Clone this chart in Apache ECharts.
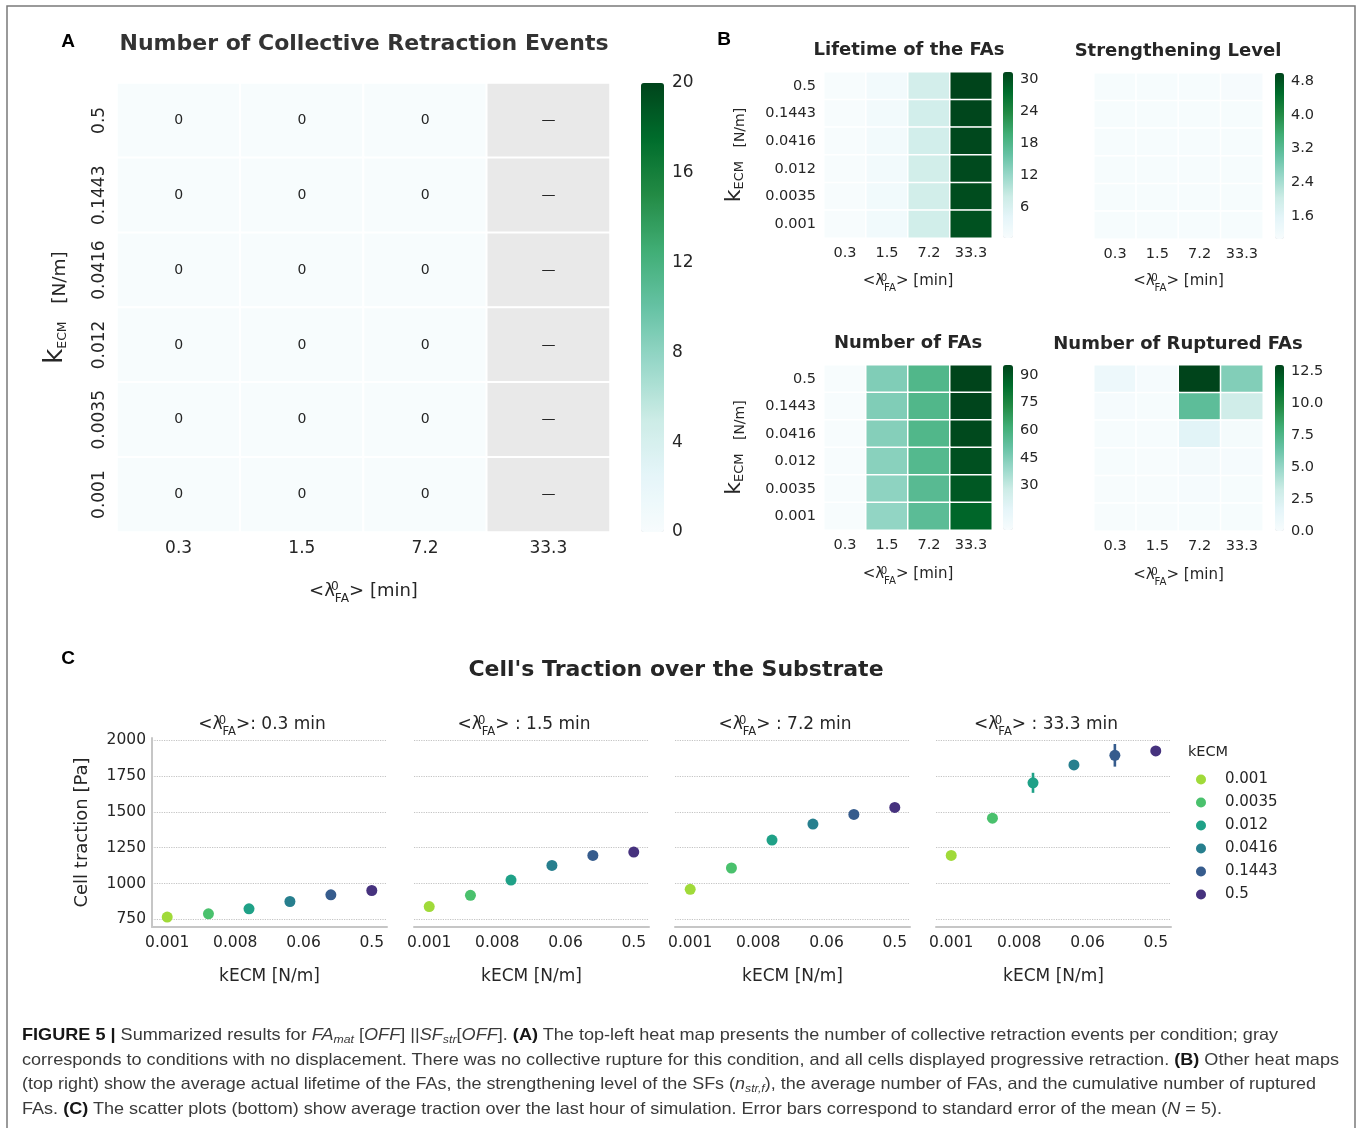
<!DOCTYPE html>
<html>
<head>
<meta charset="utf-8">
<script src="https://cdn.jsdelivr.net/npm/echarts@6/dist/echarts.min.js"></script>
<style>
  html, body { margin: 0; padding: 0; background: #fff; }
  #chart { position: absolute; left: 0; top: 0; width: 1360px; height: 1128px; }
  #caption {
    position: absolute; left: 22px; top: 1022px;
    font-family: "Liberation Sans", Arial, sans-serif;
    font-size: 16.5px; line-height: 24.7px; color: #3a3a3a;
  }
  #caption .ln { display: block; width: max-content; white-space: nowrap; transform-origin: 0 50%; }
  #caption b { color: #161616; }
  #caption sub { font-size: 68%; line-height: 0; vertical-align: -0.28em; }
</style>
</head>
<body>
<div id="chart"></div>
<div id="caption">
  <span class="ln" data-w="1256"><b>FIGURE 5 |</b> Summarized results for <i>FA<sub>mat</sub></i> [<i>OFF</i>] ||<i>SF<sub>str</sub></i>[<i>OFF</i>]. <b>(A)</b> The top-left heat map presents the number of collective retraction events per condition; gray</span>
  <span class="ln" data-w="1317">corresponds to conditions with no displacement. There was no collective rupture for this condition, and all cells displayed progressive retraction. <b>(B)</b> Other heat maps</span>
  <span class="ln" data-w="1294">(top right) show the average actual lifetime of the FAs, the strengthening level of the SFs (<i>n<sub>str,f</sub></i>), the average number of FAs, and the cumulative number of ruptured</span>
  <span class="ln" data-w="1200">FAs. <b>(C)</b> The scatter plots (bottom) show average traction over the last hour of simulation. Error bars correspond to standard error of the mean (<i>N</i> = 5).</span>
</div>
<script>
// ---------- data ----------
const lambdaCols = ['0.3', '1.5', '7.2', '33.3'];
const kRows = ['0.5', '0.1443', '0.0416', '0.012', '0.0035', '0.001'];

// A: collective retraction events (null = no displacement)
const retractionEvents = [
  [0, 0, 0, null],
  [0, 0, 0, null],
  [0, 0, 0, null],
  [0, 0, 0, null],
  [0, 0, 0, null],
  [0, 0, 0, null]
];
// B: lifetime of the FAs [min]
const faLifetime = [
  [0.3, 1.4, 7.0, 31.4],
  [0.3, 1.4, 7.1, 31.2],
  [0.3, 1.4, 7.1, 31.0],
  [0.3, 1.4, 7.2, 30.8],
  [0.3, 1.5, 7.2, 30.6],
  [0.3, 1.5, 7.3, 30.2]
];
// B: strengthening level
const strengthLevel = [
  [1.08, 1.07, 1.08, 1.09],
  [1.07, 1.08, 1.07, 1.08],
  [1.08, 1.07, 1.08, 1.07],
  [1.07, 1.07, 1.08, 1.08],
  [1.08, 1.08, 1.07, 1.07],
  [1.07, 1.08, 1.07, 1.08]
];
// B: number of FAs
const faCount = [
  [6.0, 45, 57, 95.4],
  [6.0, 45, 57, 95.0],
  [6.0, 44, 57, 94.0],
  [6.0, 43, 56, 92.0],
  [6.0, 42, 55, 90.0],
  [6.0, 41, 54, 86.0]
];
// B: number of ruptured FAs
const rupturedFAs = [
  [0.9, 0.2, 13.0, 5.6],
  [0.2, 0.1, 6.9, 3.0],
  [0.1, 0.1, 1.8, 0.3],
  [0.1, 0.0, 0.4, 0.2],
  [0.0, 0.0, 0.2, 0.1],
  [0.0, 0.0, 0.1, 0.1]
];

// colour-bar extents and ticks
const eventsRange = [0, 20],      eventsTicks = [0, 4, 8, 12, 16, 20];
const lifetimeRange = [0.3, 31.4], lifetimeTicks = [6, 12, 18, 24, 30];
const strengthRange = [1.05, 5.0], strengthTicks = [1.6, 2.4, 3.2, 4.0, 4.8];
const countRange = [6.0, 95.4],    countTicks = [30, 45, 60, 75, 90];
const rupturedRange = [0, 13.0],   rupturedTicks = [0, 2.5, 5, 7.5, 10, 12.5];

// C: cell traction [Pa] per kECM, one list per <lambda_FA>
const kValues = [0.001, 0.0035, 0.012, 0.0416, 0.1443, 0.5];
const kLabels = ['0.001', '0.0035', '0.012', '0.0416', '0.1443', '0.5'];
const lambdaPanels = ['0.3', '1.5', '7.2', '33.3'];
const traction03 = [765, 788, 823, 874, 921, 951];
const traction15 = [839, 917, 1024, 1126, 1196, 1219];
const traction72 = [959, 1108, 1303, 1415, 1482, 1531];
const traction333 = [1196, 1456, 1703, 1828, 1895, 1926];
const sem03 = [6, 6, 8, 8, 9, 10];
const sem15 = [8, 9, 10, 11, 10, 11];
const sem72 = [9, 10, 12, 12, 11, 12];
const sem333 = [12, 12, 70, 16, 79, 22];
const tractionTicks = [750, 1000, 1250, 1500, 1750, 2000];
const kTickValues = [0.001, 0.0079, 0.063, 0.5];
const kTickLabels = ['0.001', '0.008', '0.06', '0.5'];

// ---------- styling ----------
const FONT = 'DejaVu Sans';
const INK = '#262626';
const BUGN = ['#f7fcfd', '#e5f5f9', '#ccece6', '#99d8c9', '#66c2a4', '#41ae76', '#238b45', '#006d2c', '#00441b'];
const VIRIDIS6 = ['#a0da39', '#4ac16d', '#1fa187', '#277f8e', '#365c8d', '#46327e'];

const grid = [], xAxis = [], yAxis = [], series = [], visualMap = [], graphic = [];

// <λ⁰_FA> : superscript stacked over subscript
function lambdaRich(size, colorKey) {
  const s = +(size * 0.68).toFixed(1);
  const z = { fontSize: s, fontFamily: FONT, width: 0, verticalAlign: 'top', lineHeight: s, padding: [size * 0.2, 0, 0, 0] };
  const sub = { fontSize: s, fontFamily: FONT, verticalAlign: 'bottom', lineHeight: s };
  z[colorKey] = INK; sub[colorKey] = INK;
  return { z: z, s: sub };
}
const LAMBDA = '<λ{z|0}{s|FA}>';

function kEcmName(big, sub, unit, lh) {
  return {
    text: 'k{e|ECM}{u|   [N/m]}',
    style: {
      fontFamily: FONT, fontSize: big, color: INK, lineHeight: lh,
      rich: {
        e: { fontFamily: FONT, fontSize: sub, color: INK, verticalAlign: 'bottom', lineHeight: sub, padding: [0, 0, 2, 0] },
        u: { fontFamily: FONT, fontSize: unit, color: INK, verticalAlign: 'bottom', lineHeight: unit, padding: [0, 0, 1, 0] }
      }
    }
  };
}

function heatmapPanel(cfg) {
  const gi = grid.length;
  grid.push({ left: cfg.box[0], top: cfg.box[1], width: cfg.box[2], height: cfg.box[3] });
  xAxis.push({
    gridIndex: gi, type: 'category', data: lambdaCols,
    axisLine: { show: false }, axisTick: { show: false }, splitLine: { show: false },
    axisLabel: { interval: 0, fontFamily: FONT, fontSize: cfg.tick, color: INK, margin: cfg.xMargin },
    name: LAMBDA + ' [min]', nameLocation: 'middle', nameGap: cfg.xNameGap, nameMoveOverlap: false,
    nameTextStyle: { fontFamily: FONT, fontSize: cfg.xName, color: INK, lineHeight: Math.round(cfg.xName * 1.55), rich: lambdaRich(cfg.xName, 'color') }
  });
  const yName = cfg.yName ? kEcmName.apply(null, cfg.yName) : null;
  yAxis.push({
    gridIndex: gi, type: 'category', data: kRows, inverse: true,
    axisLine: { show: false }, axisTick: { show: false }, splitLine: { show: false },
    axisLabel: { show: !!cfg.yName, interval: 0, hideOverlap: false, rotate: cfg.yRotate || 0, fontFamily: FONT, fontSize: cfg.tick, color: INK, margin: cfg.yMargin },
    name: yName ? yName.text : '', nameLocation: 'middle', nameGap: cfg.yNameGap || 0, nameMoveOverlap: false,
    nameTextStyle: yName ? yName.style : {}
  });
  const cells = [], blanks = [];
  cfg.values.forEach((row, r) => row.forEach((v, c) => {
    if (v == null) blanks.push([c, r, 0]); else cells.push([c, r, v]);
  }));
  const si = series.length;
  series.push({
    type: 'heatmap', xAxisIndex: gi, yAxisIndex: gi, data: cells, silent: true,
    itemStyle: { borderColor: '#fff', borderWidth: cfg.gap },
    label: cfg.annotate ? { show: true, formatter: p => String(p.value[2]), fontFamily: FONT, fontSize: 14, color: INK } : { show: false },
    emphasis: { disabled: true }
  });
  if (blanks.length) {
    series.push({
      type: 'heatmap', xAxisIndex: gi, yAxisIndex: gi, data: blanks, silent: true,
      itemStyle: { color: '#e9e9e9', borderColor: '#fff', borderWidth: cfg.gap },
      label: { show: true, formatter: '—', fontFamily: FONT, fontSize: 14, color: INK },
      emphasis: { disabled: true }
    });
  }
  visualMap.push({
    type: 'continuous', seriesIndex: si, min: cfg.range[0], max: cfg.range[1],
    inRange: { color: BUGN }, calculable: false, orient: 'vertical', hoverLink: false,
    left: cfg.bar[0], top: cfg.bar[1], itemWidth: cfg.bar[2], itemHeight: cfg.bar[3], padding: 0, text: null
  });
  // colour-bar tick labels
  const ci = grid.length;
  grid.push({ left: cfg.bar[0], top: cfg.bar[1], width: cfg.bar[2], height: cfg.bar[3] });
  xAxis.push({ gridIndex: ci, type: 'value', show: false });
  yAxis.push({
    gridIndex: ci, type: 'value', position: 'right', min: cfg.range[0], max: cfg.range[1],
    axisLine: { show: false }, splitLine: { show: false },
    axisTick: { show: false, customValues: cfg.ticks },
    axisLabel: { customValues: cfg.ticks, formatter: cfg.fmt, fontFamily: FONT, fontSize: cfg.cbFont, color: INK, margin: cfg.cbMargin }
  });
}

const int = v => String(Math.round(v));
const one = v => v.toFixed(1);

// A
heatmapPanel({
  box: [117, 83, 493, 449], bar: [641, 83, 23, 449], values: retractionEvents,
  range: eventsRange, ticks: eventsTicks, fmt: int, cbFont: 17, cbMargin: 8,
  tick: 17, xMargin: 8, yMargin: 8.5, yRotate: 90, gap: 2, annotate: true,
  xName: 18, xNameGap: 45, yName: [26, 12.5, 18.5, 32], yNameGap: 46
});
// B
const B_TICK = 14.5;
heatmapPanel({
  box: [824, 72, 168, 166], bar: [1003, 72, 10, 166], values: faLifetime,
  range: lifetimeRange, ticks: lifetimeTicks, fmt: int, cbFont: B_TICK, cbMargin: 7,
  tick: B_TICK, xMargin: 8, yMargin: 8, gap: 1.5, xName: 15, xNameGap: 32, yName: [22, 13, 14, 28], yNameGap: 76
});
heatmapPanel({
  box: [1094, 73, 169, 166], bar: [1275, 73, 9, 166], values: strengthLevel,
  range: strengthRange, ticks: strengthTicks, fmt: one, cbFont: B_TICK, cbMargin: 7,
  tick: B_TICK, xMargin: 8, gap: 1.5, xName: 15, xNameGap: 31
});
heatmapPanel({
  box: [824, 365, 168, 165], bar: [1003, 365, 10, 165], values: faCount,
  range: countRange, ticks: countTicks, fmt: int, cbFont: B_TICK, cbMargin: 7,
  tick: B_TICK, xMargin: 8, yMargin: 8, gap: 1.5, xName: 15, xNameGap: 33, yName: [22, 13, 14, 28], yNameGap: 76
});
heatmapPanel({
  box: [1094, 365, 169, 166], bar: [1275, 365, 9, 166], values: rupturedFAs,
  range: rupturedRange, ticks: rupturedTicks, fmt: one, cbFont: B_TICK, cbMargin: 7,
  tick: B_TICK, xMargin: 8, gap: 1.5, xName: 15, xNameGap: 33
});

// C
const tractionSets = [traction03, traction15, traction72, traction333];
const semSets = [sem03, sem15, sem72, sem333];
const C_LEFTS = [152, 414, 675, 936];
const kLabelOf = v => {
  let best = 0;
  kTickValues.forEach((t, i) => {
    if (Math.abs(Math.log(v / t)) < Math.abs(Math.log(v / kTickValues[best]))) best = i;
  });
  return kTickLabels[best];
};
const SPINE = { show: true, lineStyle: { color: '#c6c6c6', width: 2 } };

tractionSets.forEach((vals, p) => {
  const gi = grid.length;
  grid.push({ left: C_LEFTS[p], top: 738, width: 235, height: 189 });
  xAxis.push({
    gridIndex: gi, type: 'log', logBase: 10, min: 0.00063, max: 0.794,
    axisLine: SPINE, splitLine: { show: false },
    axisTick: { show: false, customValues: kTickValues },
    axisLabel: { customValues: kTickValues, formatter: kLabelOf, fontFamily: FONT, fontSize: 15.5, color: INK, margin: 8 },
    name: 'kECM [N/m]', nameLocation: 'middle', nameGap: 41, nameMoveOverlap: false,
    nameTextStyle: { fontFamily: FONT, fontSize: 17, color: INK }
  });
  yAxis.push({
    gridIndex: gi, type: 'value', min: 696, max: 2016,
    axisLine: p === 0 ? SPINE : { show: false },
    axisTick: { show: false, customValues: tractionTicks },
    axisLabel: { show: p === 0, customValues: tractionTicks, formatter: v => String(Math.round(v)), fontFamily: FONT, fontSize: 15.5, color: INK, margin: 6 },
    splitLine: { show: true, lineStyle: { type: 'dotted', color: '#c4c4c4', width: 1.2 } },
    name: p === 0 ? 'Cell traction [Pa]' : '', nameLocation: 'middle', nameGap: 61, nameMoveOverlap: false,
    nameTextStyle: { fontFamily: FONT, fontSize: 18, color: INK }
  });
  const sem = semSets[p];
  series.push({
    type: 'custom', xAxisIndex: gi, yAxisIndex: gi, silent: true, z: 2,
    data: kValues.map((k, i) => [k, vals[i] - sem[i], vals[i] + sem[i], i]),
    encode: { x: 0, y: [1, 2] },
    renderItem: (params, api) => {
      const x = api.value(0);
      const a = api.coord([x, api.value(1)]);
      const b = api.coord([x, api.value(2)]);
      return { type: 'line', shape: { x1: a[0], y1: a[1], x2: b[0], y2: b[1] }, style: { stroke: VIRIDIS6[api.value(3)], lineWidth: 2.6 } };
    }
  });
  kValues.forEach((k, i) => {
    series.push({
      type: 'scatter', name: kLabels[i], xAxisIndex: gi, yAxisIndex: gi, z: 3, silent: true,
      data: [[k, vals[i]]], symbolSize: 11, itemStyle: { color: VIRIDIS6[i], opacity: 1 },
      emphasis: { disabled: true }
    });
  });
});

// ---------- texts and frame ----------
function txt(x, y, text, size, extra) {
  return { type: 'text', x: x, y: y, silent: true, z: 10,
    style: Object.assign({ text: text, fontFamily: FONT, fontSize: size, fill: INK, align: 'center', verticalAlign: 'middle' }, extra || {}) };
}
graphic.push({ type: 'polyline', silent: true, shape: { points: [[7, 1130], [7, 6], [1355, 6], [1355, 1130]] }, style: { stroke: '#7a7a7a', lineWidth: 1.5, fill: null } });
graphic.push(txt(68, 42, 'A', 19, { fontFamily: 'Liberation Sans', fontWeight: 'bold', fill: '#000' }));
graphic.push(txt(724, 40, 'B', 19, { fontFamily: 'Liberation Sans', fontWeight: 'bold', fill: '#000' }));
graphic.push(txt(68, 659, 'C', 19, { fontFamily: 'Liberation Sans', fontWeight: 'bold', fill: '#000' }));
graphic.push(txt(364, 44, 'Number of Collective Retraction Events', 22, { fontWeight: 'bold', fill: '#333' }));
graphic.push(txt(909, 50, 'Lifetime of the FAs', 18, { fontWeight: 'bold' }));
graphic.push(txt(1178, 51, 'Strengthening Level', 18, { fontWeight: 'bold' }));
graphic.push(txt(908, 343, 'Number of FAs', 18, { fontWeight: 'bold' }));
graphic.push(txt(1178, 344, 'Number of Ruptured FAs', 18, { fontWeight: 'bold' }));
graphic.push(txt(676, 670, "Cell's Traction over the Substrate", 22, { fontWeight: 'bold' }));
lambdaPanels.forEach((lam, p) => {
  const sep = p === 0 ? ': ' : ' : ';
  graphic.push(txt(C_LEFTS[p] + 110, 725, LAMBDA + sep + lam + ' min', 17, { lineHeight: 26, rich: lambdaRich(17, 'fill') }));
});
graphic.push(txt(1208, 752, 'kECM', 14.5));

const chart = echarts.init(document.getElementById('chart'), null, { renderer: 'canvas' });
chart.setOption({
  backgroundColor: '#fff',
  animation: false,
  textStyle: { fontFamily: FONT },
  grid: grid, xAxis: xAxis, yAxis: yAxis, visualMap: visualMap, series: series,
  legend: {
    data: kLabels, orient: 'vertical', left: 1191, top: 767, icon: 'circle',
    itemWidth: 10, itemHeight: 10, itemGap: 8, selectedMode: false,
    textStyle: { fontFamily: FONT, fontSize: 15, color: INK, padding: [0, 0, 0, 14] }
  },
  graphic: graphic
});

// fit each caption line to its column width
document.querySelectorAll('#caption .ln').forEach(el => {
  const w = el.getBoundingClientRect().width;
  const target = +el.dataset.w;
  if (w > 0) el.style.transform = 'scaleX(' + (target / w).toFixed(4) + ')';
});
</script>
</body>
</html>
